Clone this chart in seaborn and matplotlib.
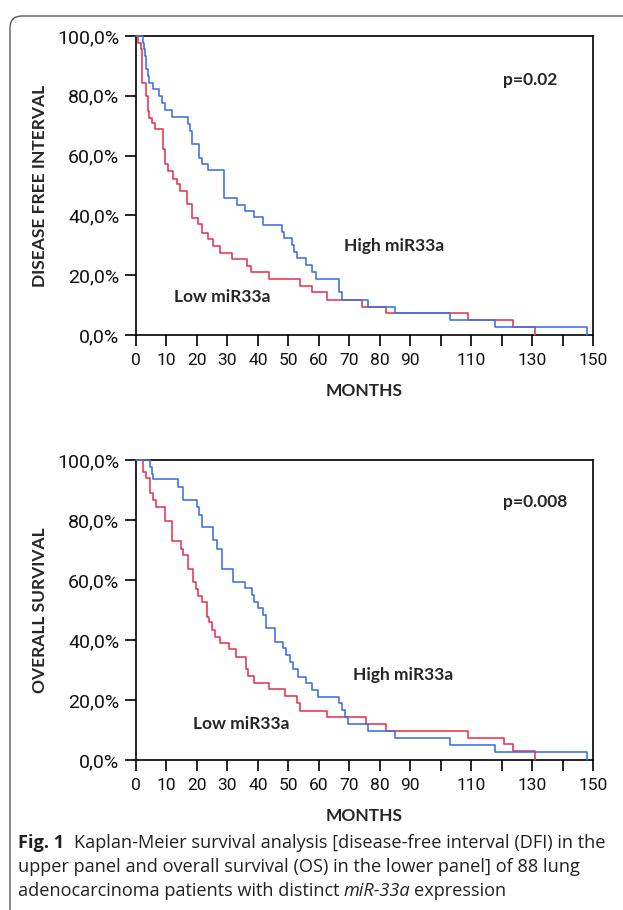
import numpy as np
import pandas as pd
import matplotlib
matplotlib.use("Agg")
import matplotlib.pyplot as plt
import matplotlib.ticker as mticker
import matplotlib.transforms as mtransforms
from matplotlib.patches import FancyBboxPatch
import seaborn as sns

# --- 1. Values (months, survival in %) ---

# Disease free interval, high miR33a (blue)
dfi_high_t = [0, 2.2, 2.6, 3.0, 3.4, 4.0, 4.4, 5.7, 7.7, 8.6, 9.5, 11.7, 17.2, 17.7, 18.5,
              20.8, 21.6, 23.7, 29.0, 33.0, 35.8, 38.8, 41.8, 47.8, 48.7, 51.1, 51.9, 53.0,
              55.7, 57.7, 59.1, 66.7, 67.7, 76.2, 85.0, 103.0, 117.8, 148.0]
dfi_high_s = [100, 97.7, 95.5, 93.2, 88.9, 86.6, 84.4, 82.2, 79.9, 77.7, 75.3, 72.9, 70.5, 68.2, 63.8,
              59.3, 57.1, 55.1, 45.9, 43.5, 41.5, 39.4, 36.8, 34.5, 32.3, 30.1, 27.9, 25.6,
              23.4, 21.2, 18.7, 14.3, 11.7, 9.5, 7.2, 5.0, 2.8, 0]

# Disease free interval, low miR33a (red)
dfi_low_t = [0, 0.5, 1.5, 1.9, 3.3, 3.8, 4.4, 5.1, 6.2, 8.8, 9.5, 10.6, 12.3, 13.3, 14.4, 16.6,
             18.3, 20.5, 21.6, 23.7, 25.4, 27.6, 31.4, 36.5, 37.7, 43.7, 53.8, 57.7, 62.8,
             74.1, 81.9, 108.9, 123.8, 131.0]
dfi_low_s = [100, 97.7, 95.5, 84.4, 79.9, 74.9, 72.7, 71.0, 68.8, 62.1, 57.1, 54.8, 52.1, 50.4, 48.2, 43.7,
             39.0, 37.0, 34.2, 32.0, 29.8, 27.5, 25.3, 23.2, 21.0, 18.7, 16.5, 14.3, 11.7,
             9.5, 7.2, 5.0, 2.8, 0]

# Overall survival, high miR33a (blue)
os_high_t = [0, 4.6, 5.1, 5.5, 13.7, 15.5, 19.9, 20.8, 21.6, 25.4, 26.5, 28.1, 31.7, 35.8, 38.0,
             38.8, 40.1, 41.8, 42.6, 45.6, 48.3, 49.1, 50.7, 51.6, 53.3, 55.8, 57.7, 59.8,
             66.7, 67.7, 68.6, 69.7, 76.0, 85.0, 103.0, 117.8, 148.0]
os_high_s = [100, 97.7, 95.5, 93.6, 91.1, 86.8, 84.4, 81.8, 77.7, 73.2, 70.5, 63.8, 59.3, 57.2, 55.0,
             52.8, 50.6, 48.3, 43.9, 39.4, 37.2, 35.0, 32.6, 30.3, 27.8, 25.6, 23.3, 21.1,
             18.9, 16.7, 14.4, 11.9, 9.8, 7.4, 5.0, 2.8, 0]

# Overall survival, low miR33a (red)
os_low_t = [0, 2.4, 3.2, 4.6, 5.5, 6.6, 9.5, 11.7, 14.8, 15.5, 17.0, 18.6, 19.7, 20.5, 21.6, 23.2,
            24.0, 24.8, 25.9, 27.6, 30.6, 32.8, 36.0, 36.6, 38.8, 43.7, 48.8, 52.8, 53.7,
            62.7, 75.6, 81.9, 108.9, 120.9, 123.8, 131.0]
os_low_s = [100, 96.0, 93.9, 88.9, 86.6, 84.4, 79.6, 72.9, 70.5, 68.2, 63.8, 59.3, 57.1, 54.8, 52.6, 47.8,
            45.9, 43.5, 41.1, 38.9, 37.0, 34.2, 30.2, 28.1, 25.8, 23.6, 21.3, 18.9, 16.4,
            14.2, 12.0, 9.8, 7.4, 5.2, 3.0, 0]

palette = {'Low': '#e8334f', 'High': '#3a6fe8'}


def km_frame(t_high, s_high, t_low, s_low):
    hi = pd.DataFrame({'month': t_high, 'surv': s_high, 'group': 'High'})
    lo = pd.DataFrame({'month': t_low, 'surv': s_low, 'group': 'Low'})
    return pd.concat([lo, hi], ignore_index=True)


# --- 2. Style ---
sns.set_theme(style='white')
plt.rcParams['font.family'] = ['DejaVu Sans']
plt.rcParams['axes.unicode_minus'] = False

TICK_FONT = ['Roboto', 'DejaVu Sans']
BOLD_FONT = ['Lato', 'DejaVu Sans']
CAP_FONT = ['Open Sans', 'DejaVu Sans']

W, H = 623, 910
fig = plt.figure(figsize=(W / 100, H / 100), dpi=100)
fig.patch.set_facecolor('white')


def draw_panel(ax, df, ylabel, pval, p_xy, high_xy, low_xy):
    sns.lineplot(data=df, x='month', y='surv', hue='group', hue_order=['Low', 'High'],
                 palette=palette, drawstyle='steps-post', estimator=None, sort=False,
                 legend=False, linewidth=1.15, ax=ax)
    for ln in ax.lines:
        ln.set_clip_on(False)
        ln.set_zorder(3)

    ax.set_xlim(0, 150)
    ax.set_ylim(0, 100)
    for sp in ax.spines.values():
        sp.set_visible(True)
        sp.set_color('black')
        sp.set_linewidth(1.2)

    ax.set_xticks(np.arange(0, 151, 10))
    ax.set_xticklabels(['' if v in (100, 120, 140) else str(v) for v in range(0, 151, 10)])
    ax.set_yticks(np.arange(0, 101, 20))
    ax.yaxis.set_major_formatter(
        mticker.FuncFormatter(lambda v, _: f"{v:.1f}%".replace('.', ',')))
    ax.tick_params(axis='both', direction='out', color='black', width=1.2,
                   bottom=True, left=True)
    ax.tick_params(axis='x', length=8, pad=5, labelsize=12.5)
    ax.tick_params(axis='y', length=8, pad=4, labelsize=14)
    for lab in ax.get_xticklabels() + ax.get_yticklabels():
        lab.set_family(TICK_FONT)
        lab.set_color('#111111')

    ax.set_xlabel('')
    ax.set_ylabel('')
    ax.text(0.5, -0.187, 'MONTHS', transform=ax.transAxes, ha='center', va='center',
            fontsize=12.5, fontweight='bold', family=BOLD_FONT)
    ax.text(-0.21, 0.5, ylabel, transform=ax.transAxes, ha='center', va='center',
            rotation=90, fontsize=12.5, fontweight='bold', family=BOLD_FONT)

    ax.text(p_xy[0], p_xy[1], pval, ha='center', va='center', fontsize=12.5,
            fontweight='bold', family=BOLD_FONT)
    ax.text(high_xy[0], high_xy[1], 'High miR33a', ha='center', va='center',
            fontsize=12.5, fontweight='bold', family=BOLD_FONT)
    ax.text(low_xy[0], low_xy[1], 'Low miR33a', ha='center', va='center',
            fontsize=12.5, fontweight='bold', family=BOLD_FONT)


# --- 3. Panels ---
ax_top = fig.add_axes([136 / W, 1 - 335 / H, 457 / W, 299 / H])
ax_bot = fig.add_axes([136 / W, 1 - 760 / H, 457 / W, 300 / H])

draw_panel(ax_top, km_frame(dfi_high_t, dfi_high_s, dfi_low_t, dfi_low_s),
           'DISEASE FREE INTERVAL', 'p=0.02', (129.3, 85.3), (84.8, 29.8), (28.4, 12.7))
draw_panel(ax_bot, km_frame(os_high_t, os_high_s, os_low_t, os_low_s),
           'OVERALL SURVIVAL', 'p=0.008', (131.1, 86.0), (87.6, 28.3), (34.7, 12.0))

# --- 4. Frame around the figure (cropped rounded box) ---
frame = FancyBboxPatch((10, -60), 720, (H - 16) + 60,
                       boxstyle='round,pad=0,rounding_size=12',
                       transform=mtransforms.IdentityTransform(),
                       fill=False, edgecolor='#5a5a5a', linewidth=1.0)
fig.add_artist(frame)

# --- 5. Caption ---
CAP_SIZE = 13.1
fig.canvas.draw()
renderer = fig.canvas.get_renderer()


def cap_text(x_px, base_px, s, **kw):
    t = fig.text(x_px / W, 1 - base_px / H, s, ha='left', va='baseline',
                 fontsize=CAP_SIZE, family=CAP_FONT, color='#231f20', **kw)
    bb = t.get_window_extent(renderer)
    return bb.x1


x_end = cap_text(18, 848, 'Fig. 1', fontweight='bold')
cap_text(x_end + 10, 848,
         'Kaplan-Meier survival analysis [disease-free interval (DFI) in the')
cap_text(18, 872, 'upper panel and overall survival (OS) in the lower panel] of 88 lung')
x_end = cap_text(18, 896, 'adenocarcinoma patients with distinct')
x_end = cap_text(x_end + 4, 896, 'miR-33a', style='italic')
cap_text(x_end + 4, 896, 'expression')

fig.savefig('out.png', dpi=100, facecolor='white')
